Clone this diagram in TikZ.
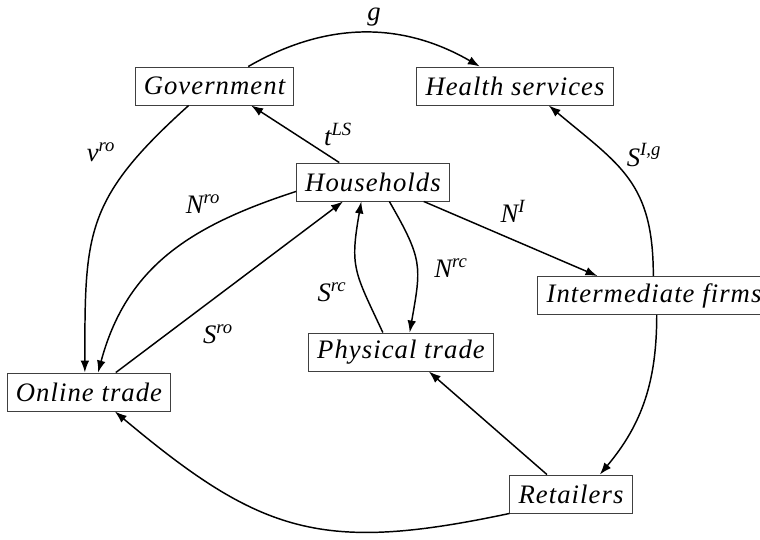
\documentclass[tikz,border=0pt]{standalone}
\usepackage{fontspec}
\setmainfont{Liberation Serif}
\usetikzlibrary{arrows.meta}
\newfontfamily\boxfont[LetterSpace=4]{Liberation Serif}
\newcommand{\flow}[2]{\textit{#1}\textsuperscript{\textit{#2}}}
\tikzset{every picture/.style={line width=0.75pt}}
\tikzset{
  sector/.style={draw=black!75, line width=0.7pt, minimum height=28.5pt, inner xsep=6.5pt, inner ysep=2pt, font=\fontsize{20}{24}\selectfont\boxfont\itshape},
  flowlbl/.style={inner sep=0pt, font=\fontsize{20}{24}\selectfont\itshape},
  flowarr/.style={-{Latex[length=9pt,width=6.5pt]}, line width=1.1pt}
}
\begin{document}
\begin{tikzpicture}[x=0.75pt,y=0.75pt,yscale=-1,xscale=1]
\useasboundingbox (0,0) rectangle (760,539);

%Sectors
\node[sector] (gov) at (214.5,86) {Government};
\node[sector] (health) at (515,86) {Health services};
\node[sector] (house) at (373,182) {Households};
\node[sector] (inter) at (654,295.5) {Intermediate firms};
\node[sector] (phys) at (401,352) {Physical trade};
\node[sector] (online) at (89,392) {Online trade};
\node[sector] (retail) at (571,494) {Retailers};

%Flow labels
\node[flowlbl] (lg) at (374,17) {\textit{g}};
\node[flowlbl] (ltls) at (338,134) {\flow{t}{LS}};
\node[flowlbl] (lvro) at (101,152) {\flow{v}{ro}};
\node[flowlbl] (lnro) at (203,204) {\flow{N}{ro}};
\node[flowlbl] (lsro) at (218,334) {\flow{S}{ro}};
\node[flowlbl] (lsrc) at (332,292) {\flow{S}{rc}};
\node[flowlbl] (lnrc) at (451,268) {\flow{N}{rc}};
\node[flowlbl] (lni) at (513,211) {\flow{N}{I}};
\node[flowlbl] (lsig) at (644,155) {\flow{S}{I,g}};

%Flows
\draw[flowarr] (gov.30) to[out=-30,in=-150] (health.151);
\draw[flowarr] (house.150) -- (gov.332);
\draw[flowarr] (gov.217) to[out=138,in=-90,looseness=1.25] (online.102);
\draw[flowarr] (house.187) to[out=162,in=-75,looseness=1.05] (online.65);
\draw[flowarr] (online.36) -- (house.213);
\draw[flowarr] (house.310) to[out=60,in=-80,looseness=1.3] (phys.66);
\draw[flowarr] (phys.133) to[out=-115,in=100,looseness=1.3] (house.239);
\draw[flowarr] (house.339) -- (inter.161);
\draw[flowarr] (inter.92) to[out=-90,in=40,looseness=1.2] (health.330);
\draw[flowarr] (inter.278) to[out=90,in=-50] (retail.34);
\draw[flowarr] (retail.141) -- (phys.325);
\draw[flowarr] (retail.south west) to[out=-192,in=40,looseness=1.2] (online.323);

\end{tikzpicture}
\end{document}
